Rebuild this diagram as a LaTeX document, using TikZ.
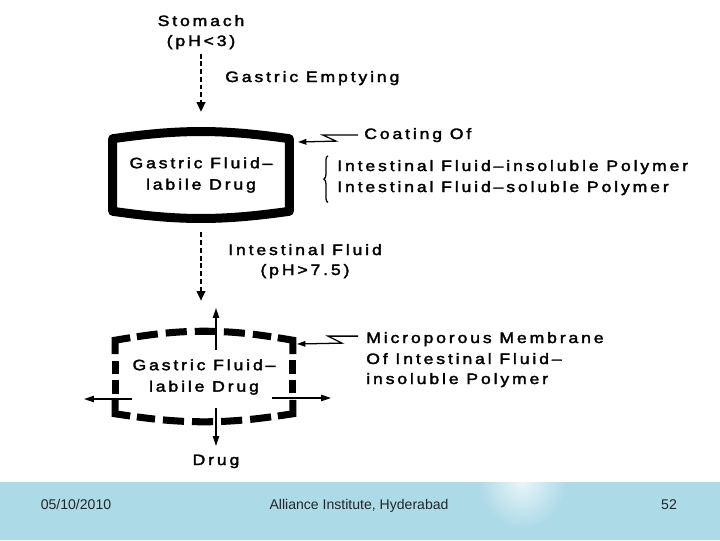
\documentclass[tikz,border=0pt]{standalone}
\usepackage{fontspec}
\usepackage{tikz}
\usetikzlibrary{arrows.meta,decorations.pathreplacing}
\newfontfamily\figfont[LetterSpace=19,FakeStretch=1.17,FakeBold=2.2]{Liberation Sans}
\newfontfamily\footfont{Liberation Sans}
\colorlet{figInk}{black}
\definecolor{footBand}{RGB}{173,218,231}
\tikzset{
  figlabel/.style={
    font=\figfont\fontsize{10.7}{15.2}\selectfont, text=figInk, inner sep=0pt
  },
  shellbox/.style={
    figlabel, align=center, minimum width=4.4cm, minimum height=1.8cm
  },
  coatline/.style={draw=figInk, line width=6.4pt, line join=round},
  porecorner/.style={draw=figInk, line width=5pt, line join=miter},
  poreline/.style={
    draw=figInk, line width=5pt, shorten <=15.6pt, shorten >=15.6pt,
    dash pattern=on 15pt off 5.7pt
  },
  poreside/.style={
    draw=figInk, line width=5pt, shorten <=14.2pt, shorten >=14.2pt,
    dash pattern=on 9.6pt off 4.3pt
  },
  transitarrow/.style={
    draw=figInk, line width=1.7pt, dash pattern=on 3.5pt off 2pt,
    -{Triangle[length=7pt,width=6pt]}
  },
  releasearrow/.style={draw=figInk, line width=0.8pt, -{Triangle[length=7pt,width=4.5pt]}},
  leaderarrow/.style={draw=figInk, line width=0.9pt, -{Triangle[length=6pt,width=4pt]}},
  bracebar/.style={draw=figInk, line width=0.9pt, decorate, decoration={brace, amplitude=3pt}},
  foottext/.style={font=\footfont\fontsize{10}{12}\selectfont, text=black!85, inner sep=0pt, anchor=base}
}

\begin{document}
\begin{tikzpicture}[x=0.025cm,y=-0.025cm]
  \useasboundingbox (0,0) rectangle (720,540);
  \fill[footBand] (0,482) rectangle (720,540);
  \begin{scope}
    \clip (0,482) rectangle (720,540);
    \shade[inner color=white!75!footBand, outer color=footBand] (522,480) ellipse [x radius=1.1cm, y radius=1.2cm];
  \end{scope}

  \node[figlabel, anchor=base] (stomach) at (201,26) {Stomach};
  \node[figlabel, anchor=base] (gastricph) at (201,46) {(pH<3)};
  \node[figlabel, anchor=base west] (emptying) at (225,82) {Gastric Emptying};

  \node[shellbox] (coat) at (201,175) {Gastric Fluid–\\labile Drug};
  \draw[coatline] (coat.north west) to[bend left=8] (coat.north east)
    -- (coat.south east) to[bend left=8] (coat.south west) -- cycle;

  \node[figlabel, anchor=base west] (coating) at (364,139) {Coating Of};
  \node[figlabel, anchor=base west] (insoluble) at (337,171) {Intestinal Fluid–insoluble Polymer};
  \node[figlabel, anchor=base west] (soluble) at (337,192) {Intestinal Fluid–soluble Polymer};
  \coordinate (coattip) at (298,142);
  \draw[leaderarrow] (coating.west) ++(-6,0) -- ++(-35,0) -- ++(13,6) -- (coattip);
  \draw[bracebar] ([shift={(-9,7)}]soluble.south west) -- ([shift={(-9,-4)}]insoluble.north west);

  \draw[transitarrow, shorten <=3pt, shorten >=19pt] (gastricph.south) -- (coat.north);

  \node[figlabel, anchor=base west] (intestinal) at (228,255) {Intestinal Fluid};
  \node[figlabel, anchor=base] (intestph) at (305,275) {(pH>7.5)};

  \node[shellbox, minimum width=4.425cm, minimum height=1.825cm] (membrane) at (204,377) {Gastric Fluid–\\labile Drug};
  \draw[poreline] (membrane.north west) to[bend left=9] (membrane.north east);
  \draw[poreside] (membrane.north east) -- (membrane.south east);
  \draw[poreline] (membrane.south east) to[bend left=8] (membrane.south west);
  \draw[poreside] (membrane.south west) -- (membrane.north west);
  \draw[porecorner] ([shift={(0,14)}]membrane.north west) -- (membrane.north west) -- ([shift={(15,-2.5)}]membrane.north west);
  \draw[porecorner] ([shift={(0,14)}]membrane.north east) -- (membrane.north east) -- ([shift={(-15,-2.5)}]membrane.north east);
  \draw[porecorner] ([shift={(0,-14)}]membrane.south east) -- (membrane.south east) -- ([shift={(-15,2.2)}]membrane.south east);
  \draw[porecorner] ([shift={(0,-14)}]membrane.south west) -- (membrane.south west) -- ([shift={(15,2.2)}]membrane.south west);

  \draw[transitarrow, shorten <=15pt, shorten >=28pt] (coat.south) -- (coat.south |- membrane.north);

  \node[figlabel, anchor=base west] (micro) at (366,343) {Microporous Membrane};
  \node[figlabel, anchor=base west] (microof) at (366,364) {Of Intestinal Fluid–};
  \node[figlabel, anchor=base west] (microins) at (366,384) {insoluble Polymer};
  \coordinate (poretip) at (297,344);
  \draw[leaderarrow] (micro.west) ++(-8,-3) -- ++(-30,0) -- ++(14,7) -- (poretip);

  \node[figlabel, anchor=base] (drug) at (216,465) {Drug};
  \coordinate (upout) at (216,308);
  \coordinate (leftout) at (84,399);
  \coordinate (rightout) at (331,398);
  \draw[releasearrow] (upout |- membrane.north) ++(0,10) -- (upout);
  \draw[releasearrow, shorten >=6pt] (drug.north |- membrane.south) ++(0,-6) -- (drug.north);
  \draw[releasearrow] (leftout -| membrane.west) ++(17,0) -- (leftout);
  \draw[releasearrow] (rightout -| membrane.east) ++(-21,0) -- (rightout);

  \node[foottext] (date) at (76,509) {05/10/2010};
  \node[foottext] (institute) at (359,509) {Alliance Institute, Hyderabad};
  \node[foottext] (page) at (669,509) {52};
\end{tikzpicture}
\end{document}
